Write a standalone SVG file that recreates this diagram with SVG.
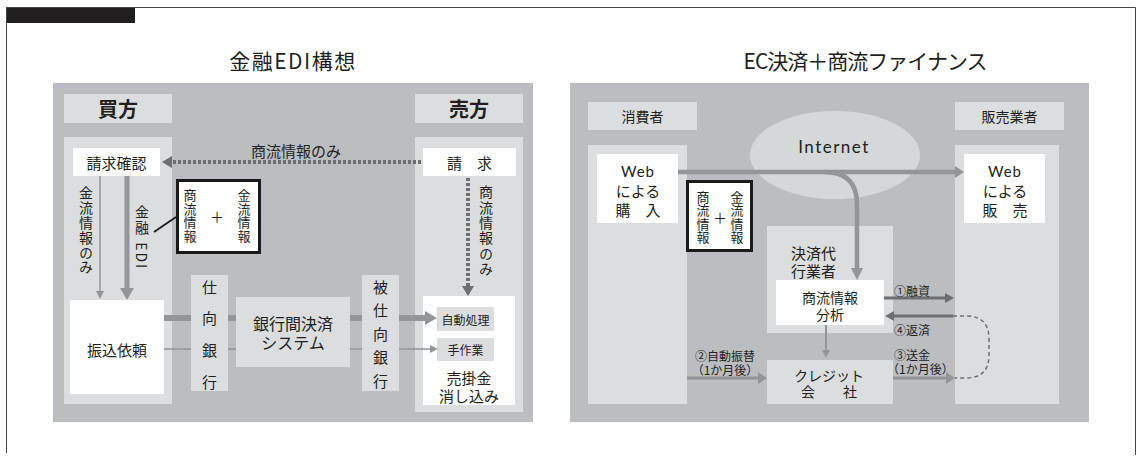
<svg xmlns="http://www.w3.org/2000/svg" width="1138" height="458" viewBox="0 0 1138 458">
<defs>
<style>
text { font-family: "Noto Sans CJK JP", "Noto Sans", sans-serif; fill: #231f20; dominant-baseline: central; text-anchor: middle; }
.s12 { font-size: 12px; } .s13 { font-size: 13px; } .s14 { font-size: 14px; } .s15 { font-size: 15px; } .s16 { font-size: 16px; }
.title { font-size: 21px; }
.hdr { font-size: 20px; font-weight: bold; }
.st { text-anchor: start; }
.v { writing-mode: vertical-rl; text-orientation: mixed; text-anchor: start; }
.lat { font-family: "Lato", "Noto Sans", sans-serif; }
.panel { fill: #bcbdc0; }
.light { fill: #dcdddf; }
.white { fill: #ffffff; }
.info { fill: #ffffff; stroke: #1a1a1a; stroke-width: 3; }
.cg { stroke: #939598; fill: none; }
.cd { stroke: #6d6e71; fill: none; }
</style>
<marker id="mThick" markerUnits="userSpaceOnUse" markerWidth="12" markerHeight="14" viewBox="0 0 12 14" refX="0" refY="7" orient="auto" overflow="visible"><path d="M0 0 L12 7 L0 14 Z" fill="#939598"/></marker>
<marker id="mThin" markerUnits="userSpaceOnUse" markerWidth="8" markerHeight="8" viewBox="0 0 8 8" refX="0" refY="4" orient="auto" overflow="visible"><path d="M0 0 L8 4 L0 8 Z" fill="#939598"/></marker>
<marker id="mMid" markerUnits="userSpaceOnUse" markerWidth="9" markerHeight="12" viewBox="0 0 9 12" refX="0" refY="6" orient="auto" overflow="visible"><path d="M0 0 L9 6 L0 12 Z" fill="#939598"/></marker>
<marker id="mDown" markerUnits="userSpaceOnUse" markerWidth="12" markerHeight="12" viewBox="0 0 12 12" refX="0" refY="6" orient="auto" overflow="visible"><path d="M0 0 L12 6 L0 12 Z" fill="#939598"/></marker>
<marker id="mDot" markerUnits="userSpaceOnUse" markerWidth="10" markerHeight="12" viewBox="0 0 10 12" refX="0" refY="6" orient="auto" overflow="visible"><path d="M0 0 L10 6 L0 12 Z" fill="#6d6e71"/></marker>
<marker id="mDark" markerUnits="userSpaceOnUse" markerWidth="9" markerHeight="10" viewBox="0 0 9 10" refX="0" refY="5" orient="auto" overflow="visible"><path d="M0 0 L9 5 L0 10 Z" fill="#6d6e71"/></marker>
</defs>
<rect x="0" y="0" width="1138" height="458" fill="#ffffff"/>

<g id="frame">
  <rect x="6" y="7" width="129" height="16" fill="#231f20"/>
  <path d="M6.5 7 V453 M6 7.5 H1135.5 V455" stroke="#444" stroke-width="1" fill="none"/>
</g>

<g id="titles">
  <text class="title" x="293" y="60" letter-spacing="1.5">金融EDI構想</text>
  <text class="title" x="865" y="60" letter-spacing="-1">EC決済＋商流ファイナンス</text>
</g>

<g id="panels">
  <rect class="panel" x="53" y="83" width="480" height="339"/>
  <rect class="panel" x="570" y="83" width="519" height="339"/>
</g>

<g id="nodes-under">
  <g id="hdr-buyer"><rect class="light" x="64" y="94" width="108" height="29"/><text class="hdr" x="118" y="108.5">買方</text></g>
  <g id="hdr-seller"><rect class="light" x="415" y="94" width="108" height="29"/><text class="hdr" x="469" y="108.5">売方</text></g>
  <g id="col-buyer"><rect class="light" x="64" y="137" width="108" height="267"/></g>
  <g id="col-seller"><rect class="light" x="415" y="137" width="108" height="275"/></g>
  <g id="seikyu-kakunin"><rect class="white" x="73" y="148" width="87" height="28"/><text class="s15" x="116.5" y="162">請求確認</text></g>
  <g id="seikyu"><rect class="white" x="423" y="148" width="93" height="28"/><text class="s15" x="469.5" y="162">請　求</text></g>
  <g id="furikomi"><rect class="white" x="70" y="300" width="94" height="94"/><text class="s15" x="117" y="349">振込依頼</text></g>
  <g id="urikake"><rect class="white" x="423" y="296" width="92" height="109"/>
    <text class="s15"><tspan x="469" y="377">売掛金</tspan><tspan x="469" y="395">消し込み</tspan></text></g>
  <g id="jido"><rect class="light" x="437" y="307" width="57" height="24"/><text class="s12" x="465.5" y="319">自動処理</text></g>
  <g id="tesagyo"><rect class="light" x="437" y="338" width="57" height="23"/><text class="s12" x="465.5" y="349.5">手作業</text></g>
  <g id="info-left"><rect class="info" x="177.5" y="180.5" width="82" height="72"/>
    <text class="s13 v" x="190" y="188.5" letter-spacing="0.7">商流情報</text>
    <text class="s14" x="217" y="216">＋</text>
    <text class="s13 v" x="244" y="188.5" letter-spacing="0.7">金流情報</text></g>

  <g id="hdr-consumer"><rect class="light" x="588" y="102" width="109" height="28"/><text class="s14" x="642.5" y="116">消費者</text></g>
  <g id="hdr-vendor"><rect class="light" x="955" y="102" width="109" height="28"/><text class="s14" x="1009.5" y="116">販売業者</text></g>
  <g id="col-consumer"><rect class="light" x="588" y="145" width="99" height="259"/></g>
  <g id="col-vendor"><rect class="light" x="955" y="145" width="104" height="259"/></g>
  <g id="internet"><ellipse cx="835" cy="155" rx="85" ry="44" fill="#d6d7d9"/><text class="lat" x="834" y="146" font-size="17" letter-spacing="1.5">Internet</text></g>
  <g id="web-buy"><rect class="white" x="597" y="154" width="81" height="69"/>
    <text class="s15"><tspan class="lat" x="638" y="171" letter-spacing="1">Web</tspan><tspan x="638" y="190">による</tspan><tspan x="638" y="208.5">購　入</tspan></text></g>
  <g id="web-sell"><rect class="white" x="964" y="154" width="81" height="69"/>
    <text class="s15"><tspan class="lat" x="1005" y="171" letter-spacing="1">Web</tspan><tspan x="1005" y="190">による</tspan><tspan x="1005" y="208.5">販　売</tspan></text></g>
  <g id="info-right"><rect class="info" x="687.5" y="181.5" width="64" height="69"/>
    <text class="s13 v" x="703" y="190.5" letter-spacing="0.5">商流情報</text>
    <text class="s14" x="720" y="217">＋</text>
    <text class="s13 v" x="737" y="190.5" letter-spacing="0.5">金流情報</text></g>
  <g id="kessai-daiko"><rect class="light" x="767" y="226" width="126" height="107"/>
    <text class="s15 st"><tspan x="791" y="252">決済代</tspan><tspan x="791" y="270">行業者</tspan></text></g>
  <g id="bunseki"><rect class="white" x="776" y="280" width="108" height="45"/>
    <text class="s14"><tspan x="830" y="297">商流情報</tspan><tspan x="830" y="314">分析</tspan></text></g>
  <g id="credit"><rect class="light" x="767" y="360" width="126" height="44"/>
    <text class="s14"><tspan x="829" y="375">クレジット</tspan><tspan x="829" y="391">会　　社</tspan></text></g>
</g>

<g id="connectors">
  <path class="cd" d="M421 162 H172" stroke-width="4" stroke-dasharray="3 2" marker-end="url(#mDot)"/>
  <path class="cd" d="M468 178 V286" stroke-width="4" stroke-dasharray="3 2" marker-end="url(#mDot)"/>
  <path class="cg" d="M100 176 V291" stroke-width="1.5" marker-end="url(#mThin)"/>
  <path class="cg" d="M127 176 V288" stroke-width="5" marker-end="url(#mThick)"/>
  <path class="cg" d="M164 318 H425" stroke-width="6" marker-end="url(#mThick)"/>
  <path class="cg" d="M164 349 H430" stroke-width="1.5" marker-end="url(#mThin)"/>
  <path d="M176 217 L154 232" stroke="#1a1a1a" stroke-width="1.8" fill="none"/>

  <path class="cg" d="M678 172 H955" stroke-width="4.5" marker-end="url(#mMid)"/>
  <path class="cg" d="M824 172 Q857 172 857 204 V268" stroke-width="4.5" marker-end="url(#mDown)"/>
  <path class="cg" d="M826 325 V350" stroke-width="2" marker-end="url(#mThin)"/>
  <path class="cd" d="M884 298 H945" stroke-width="3" marker-end="url(#mDark)"/>
  <path class="cd" d="M953 316 H894" stroke-width="3" marker-end="url(#mDark)"/>
  <path class="cd" d="M953 316 H966 Q989 316 989 339 V355 Q989 378 966 378 H955" stroke-width="1.5" stroke-dasharray="4 3"/>
  <path class="cg" d="M893 378 H946" stroke-width="3" marker-end="url(#mMid)"/>
  <path class="cg" d="M687 378 H758" stroke-width="3" marker-end="url(#mMid)"/>
</g>

<g id="connector-labels">
  <text class="s15" x="296" y="150">商流情報のみ</text>
  <text class="s14 v" x="486" y="185" letter-spacing="1.3">商流情報のみ</text>
  <text class="s14 v" x="86" y="186" letter-spacing="0.8">金流情報のみ</text>
  <text class="s14 v" x="142" y="205" letter-spacing="2">金融 EDI</text>
  <text class="s12 st" x="894" y="290">①融資</text>
  <text class="s12 st" x="894" y="329">④返済</text>
  <text class="s12 st"><tspan x="894" y="354">③送金</tspan><tspan x="887" y="368">（1か月後）</tspan></text>
  <text class="s12"><tspan x="725" y="355">②自動振替</tspan><tspan x="725" y="369">（1か月後）</tspan></text>
</g>

<g id="nodes-over">
  <g id="shimuke"><rect class="light" x="191" y="275" width="37" height="116"/>
    <text class="s15 v" x="209.5" y="279.5" letter-spacing="16.7">仕向銀行</text></g>
  <g id="ginkokan"><rect class="light" x="236" y="297" width="114" height="70"/>
    <text class="s16"><tspan x="293" y="323">銀行間決済</tspan><tspan x="293" y="342">システム</tspan></text></g>
  <g id="hishimuke"><rect class="light" x="362" y="275" width="37" height="116"/>
    <text class="s15 v" x="380.5" y="279.5" letter-spacing="8.5">被仕向銀行</text></g>
</g>
</svg>
